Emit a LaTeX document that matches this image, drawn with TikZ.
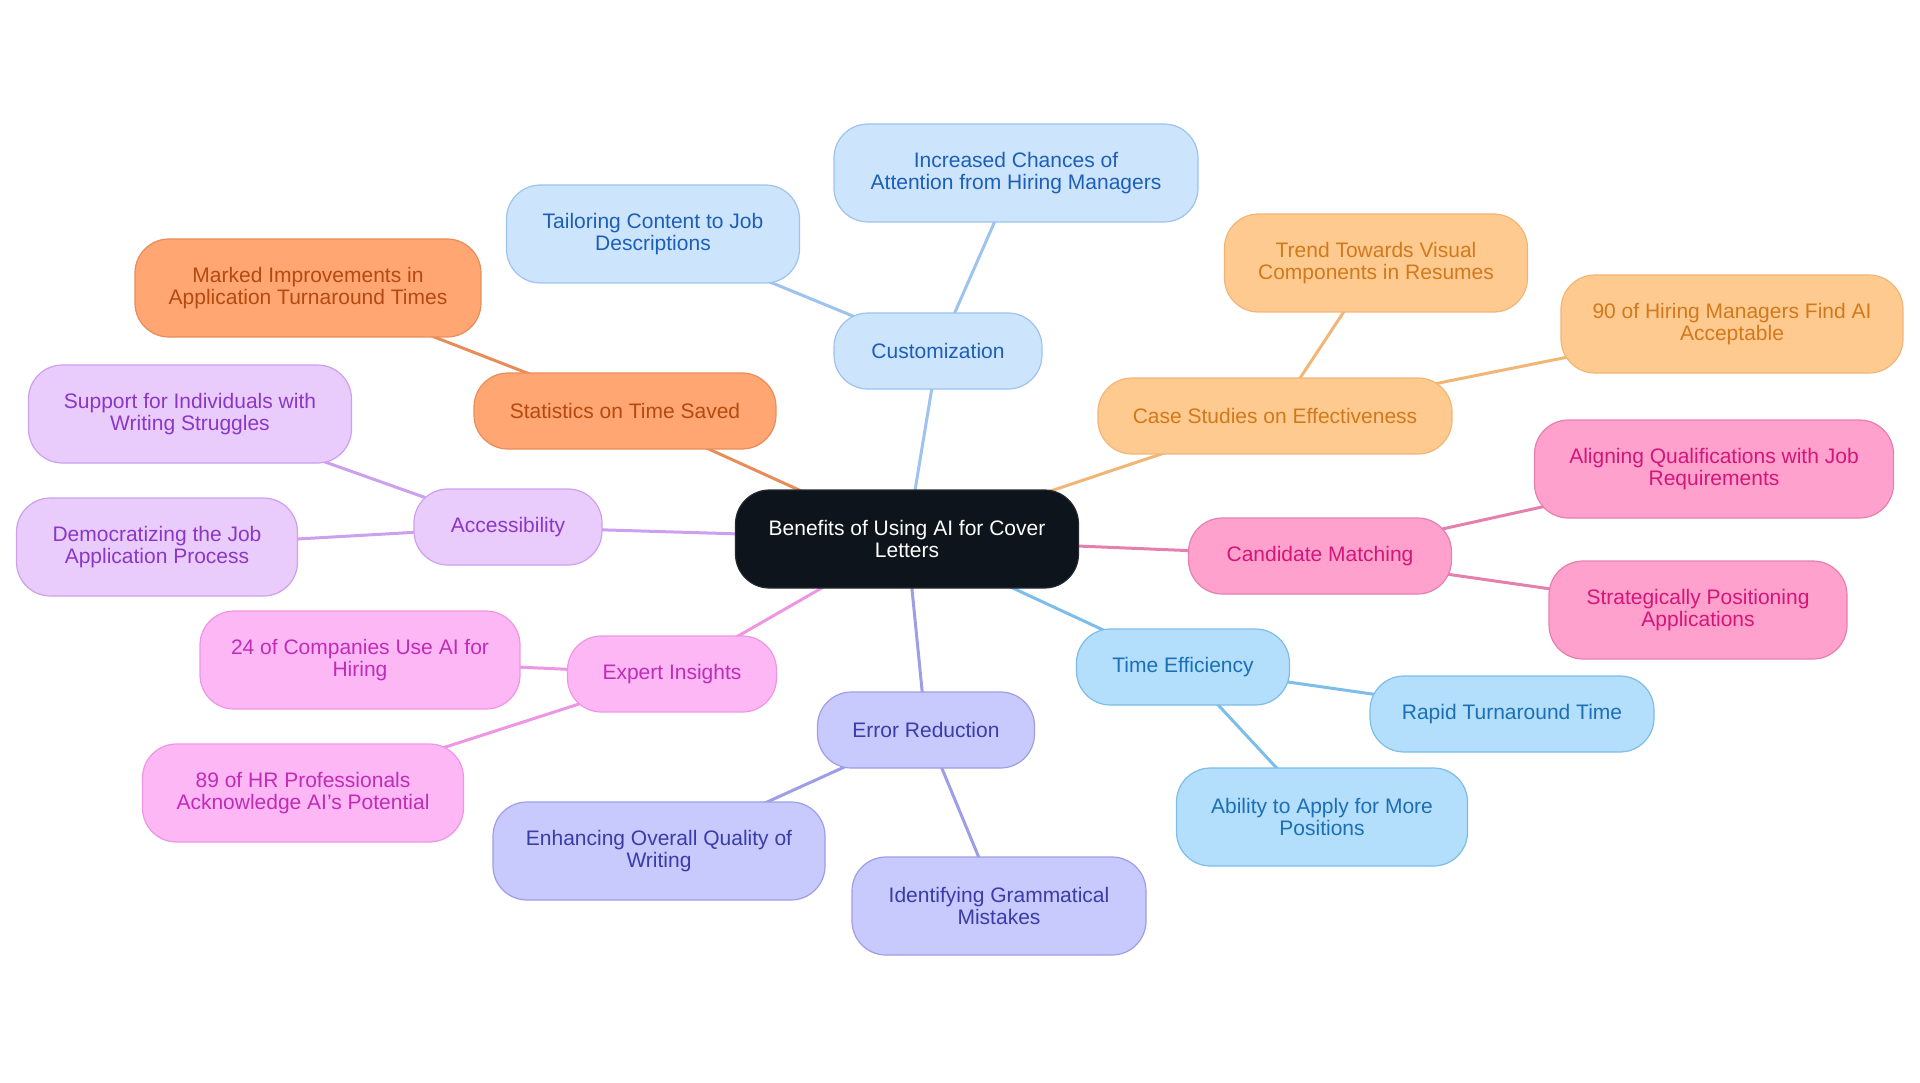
\documentclass[tikz,border=0pt]{standalone}
\usepackage{fontspec}
\setmainfont{Liberation Sans}
\usepackage{xcolor}
\usetikzlibrary{backgrounds}

\definecolor{rootfill}{HTML}{0D141C}
\definecolor{bluefill}{HTML}{CDE4FD}
\definecolor{blueline}{HTML}{9DC3EE}
\definecolor{bluetext}{HTML}{1D5FB8}
\definecolor{orangefill}{HTML}{FFA672}
\definecolor{orangeline}{HTML}{E88D5A}
\definecolor{orangetext}{HTML}{B44A0F}
\definecolor{peachfill}{HTML}{FFCA8F}
\definecolor{peachline}{HTML}{F1B676}
\definecolor{peachtext}{HTML}{D07A1D}
\definecolor{pinkfill}{HTML}{FFA1CC}
\definecolor{pinkline}{HTML}{E580AE}
\definecolor{pinktext}{HTML}{D4157A}
\definecolor{skyfill}{HTML}{B3DEFC}
\definecolor{skyline}{HTML}{7DBDE9}
\definecolor{skytext}{HTML}{1B70B5}
\definecolor{lavfill}{HTML}{C8C9FC}
\definecolor{lavline}{HTML}{9D9EE6}
\definecolor{lavtext}{HTML}{3A3CA8}
\definecolor{magfill}{HTML}{FDB7F5}
\definecolor{magline}{HTML}{EE96E4}
\definecolor{magtext}{HTML}{C02CB8}
\definecolor{purpfill}{HTML}{EACCFC}
\definecolor{purpline}{HTML}{CDA0EE}
\definecolor{purptext}{HTML}{8A37C6}

\begin{document}
\begin{tikzpicture}[x=1pt,y=-1pt,
  box/.style={rounded corners=34pt, line width=1.2pt, align=center, inner sep=0pt,
    minimum height=76pt, font=\fontsize{21}{22}\selectfont},
  two/.style={minimum height=98pt},
  rootbox/.style={box, two, fill=rootfill, draw=rootfill!80!gray, text=white},
  bluebox/.style={box, fill=bluefill, draw=blueline, text=bluetext},
  orangebox/.style={box, fill=orangefill, draw=orangeline, text=orangetext},
  peachbox/.style={box, fill=peachfill, draw=peachline, text=peachtext},
  pinkbox/.style={box, fill=pinkfill, draw=pinkline, text=pinktext},
  skybox/.style={box, fill=skyfill, draw=skyline, text=skytext},
  lavbox/.style={box, fill=lavfill, draw=lavline, text=lavtext},
  magbox/.style={box, fill=magfill, draw=magline, text=magtext},
  purpbox/.style={box, fill=purpfill, draw=purpline, text=purptext},
  link/.style={line width=3pt}]

\useasboundingbox (0,0) rectangle (1920,1083);

% root
\node [rootbox, minimum width=343pt] (root) at (907,539) {Benefits of Using AI for Cover\\Letters};

% customization
\node [bluebox, minimum width=208pt] (custom) at (938,351) {Customization};
\node [bluebox, two, minimum width=364pt] (chances) at (1016,173) {Increased Chances of\\Attention from Hiring Managers};
\node [bluebox, two, minimum width=293pt] (tailor) at (653,234) {Tailoring Content to Job\\Descriptions};

% statistics
\node [orangebox, minimum width=302pt] (stats) at (625,411) {Statistics on Time Saved};
\node [orangebox, two, minimum width=346pt] (marked) at (308,288) {Marked Improvements in\\Application Turnaround Times};

% accessibility
\node [purpbox, minimum width=188pt] (access) at (508,527) {Accessibility};
\node [purpbox, two, minimum width=323pt] (support) at (190,414) {Support for Individuals with\\Writing Struggles};
\node [purpbox, two, minimum width=281pt] (democ) at (157,547) {Democratizing the Job\\Application Process};

% expert insights
\node [magbox, minimum width=209pt] (expert) at (672,674) {Expert Insights};
\node [magbox, two, minimum width=320pt] (companies) at (360,660) {24 of Companies Use AI for\\Hiring};
\node [magbox, two, minimum width=321pt] (hrpros) at (303,793) {89 of HR Professionals\\Acknowledge AI's Potential};

% error reduction
\node [lavbox, minimum width=217pt] (error) at (926,730) {Error Reduction};
\node [lavbox, two, minimum width=332pt] (enhance) at (659,851) {Enhancing Overall Quality of\\Writing};
\node [lavbox, two, minimum width=294pt] (grammar) at (999,906) {Identifying Grammatical\\Mistakes};

% time efficiency
\node [skybox, minimum width=213pt] (timeeff) at (1183,667) {Time Efficiency};
\node [skybox, minimum width=284pt] (rapid) at (1512,714) {Rapid Turnaround Time};
\node [skybox, two, minimum width=291pt] (apply) at (1322,817) {Ability to Apply for More\\Positions};

% candidate matching
\node [pinkbox, minimum width=263pt] (match) at (1320,556) {Candidate Matching};
\node [pinkbox, two, minimum width=359pt] (align) at (1714,469) {Aligning Qualifications with Job\\Requirements};
\node [pinkbox, two, minimum width=298pt] (strat) at (1698,610) {Strategically Positioning\\Applications};

% case studies
\node [peachbox, minimum width=354pt] (cases) at (1275,416) {Case Studies on Effectiveness};
\node [peachbox, two, minimum width=303pt] (trend) at (1376,263) {Trend Towards Visual\\Components in Resumes};
\node [peachbox, two, minimum width=342pt] (ninety) at (1732,324) {90 of Hiring Managers Find AI\\Acceptable};

% links run centre to centre, behind the boxes
\begin{pgfonlayer}{background}
\draw [link, color=blueline] (root.center) -- (custom.center) (custom.center) -- (chances.center) (custom.center) -- (tailor.center);
\draw [link, color=orangeline] (root.center) -- (stats.center) (stats.center) -- (marked.center);
\draw [link, color=purpline] (root.center) -- (access.center) (access.center) -- (support.center) (access.center) -- (democ.center);
\draw [link, color=magline] (root.center) -- (expert.center) (expert.center) -- (companies.center) (expert.center) -- (hrpros.center);
\draw [link, color=lavline] (root.center) -- (error.center) (error.center) -- (enhance.center) (error.center) -- (grammar.center);
\draw [link, color=skyline] (root.center) -- (timeeff.center) (timeeff.center) -- (rapid.center) (timeeff.center) -- (apply.center);
\draw [link, color=pinkline] (root.center) -- (match.center) (match.center) -- (align.center) (match.center) -- (strat.center);
\draw [link, color=peachline] (root.center) -- (cases.center) (cases.center) -- (trend.center) (cases.center) -- (ninety.center);
\end{pgfonlayer}
\end{tikzpicture}
\end{document}
